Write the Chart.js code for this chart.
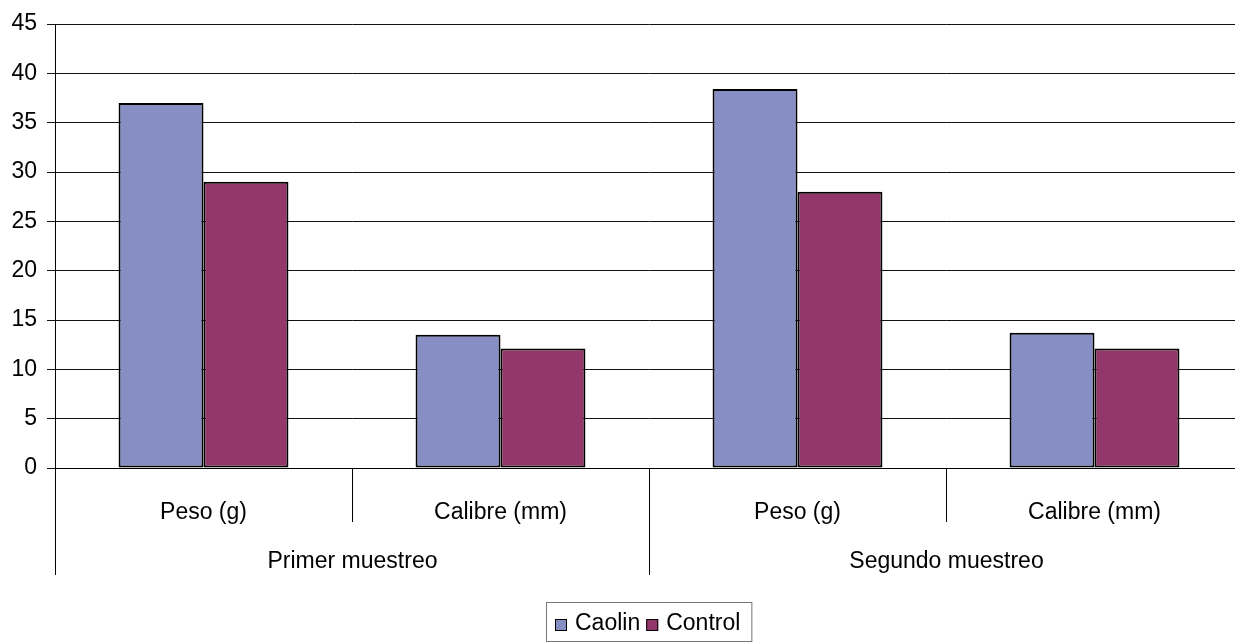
<!DOCTYPE html>
<html>
<head>
<meta charset="utf-8">
<script src="https://cdn.jsdelivr.net/npm/chart.js@4.4.1/dist/chart.umd.min.js"></script>
<style>
  html, body { margin: 0; padding: 0; background: #fff; overflow: hidden; }
  #grafico { display: block; }
</style>
</head>
<body>
<canvas id="grafico" width="1243" height="642"></canvas>
<script>
/* global Chart */
const CATEGORIAS = ['Peso (g)', 'Calibre (mm)', 'Peso (g)', 'Calibre (mm)'];
const MUESTREOS = ['Primer muestreo', 'Segundo muestreo'];
const CATS_POR_MUESTREO = 2;
const CAOLIN = [37.0, 13.5, 38.4, 13.7];
const CONTROL = [29.0, 12.1, 28.0, 12.1];
const Y_MIN = 0, Y_MAX = 45, Y_PASO = 5;

const FUENTE = 'Liberation Sans, Arial, sans-serif';
const COLORES = { caolin: '#878EC4', control: '#93366A' };

// Separadores largos + etiquetas de muestreo
const gruposPlugin = {
  id: 'grupos',
  afterDraw(chart) {
    const x = chart.scales.x;
    const ctx = chart.ctx;
    const ancho = x.getPixelForValue(1) - x.getPixelForValue(0);
    const yBase = chart.chartArea.bottom;
    ctx.save();
    ctx.strokeStyle = '#000';
    ctx.lineWidth = 1;
    ctx.fillStyle = '#000';
    ctx.font = '23px ' + FUENTE;
    ctx.textAlign = 'center';
    ctx.textBaseline = 'middle';
    MUESTREOS.forEach((m, g) => {
      const i0 = g * CATS_POR_MUESTREO;
      const i1 = i0 + CATS_POR_MUESTREO - 1;
      const izq = Math.round(x.getPixelForValue(i0) - ancho / 2) + 0.5;
      const der = Math.round(x.getPixelForValue(i1) + ancho / 2) + 0.5;
      [izq, der].forEach(px => {
        ctx.beginPath();
        ctx.moveTo(px, yBase);
        ctx.lineTo(px, yBase + 107);
        ctx.stroke();
      });
      ctx.fillText(m, (izq + der) / 2, yBase + 94);
    });
    ctx.restore();
  }
};

// Leyenda con recuadro, centrada en el area del grafico
const leyendaPlugin = {
  id: 'leyendaRecuadro',
  afterDraw(chart) {
    const ctx = chart.ctx;
    const area = chart.chartArea;
    ctx.save();
    ctx.font = '23px ' + FUENTE;
    const items = chart.data.datasets.map(ds => ({ texto: ds.label, color: ds.backgroundColor, w: ctx.measureText(ds.label).width }));
    const caja = 12, gapCaja = 8, gapItem = 6, padIzq = 9, padDer = 11;
    let total = padIzq + padDer;
    items.forEach((it, i) => { total += caja + gapCaja + it.w + (i < items.length - 1 ? gapItem : 0); });
    const x0 = Math.round((area.left + area.right) / 2 - total / 2);
    const yTop = 602;
    ctx.strokeStyle = '#777';
    ctx.lineWidth = 1;
    ctx.strokeRect(x0 + 0.5, yTop + 0.5, total, 39);
    let cx = x0 + padIzq;
    ctx.textBaseline = 'middle';
    ctx.textAlign = 'left';
    items.forEach(it => {
      ctx.fillStyle = it.color;
      ctx.fillRect(cx, 619, caja, caja);
      ctx.strokeStyle = '#000';
      ctx.strokeRect(cx + 0.5, 619.5, caja - 1, caja - 1);
      cx += caja + gapCaja;
      ctx.fillStyle = '#000';
      ctx.fillText(it.texto, cx, 624);
      cx += it.w + gapItem;
    });
    ctx.restore();
  }
};

new Chart(document.getElementById('grafico'), {
  type: 'bar',
  data: {
    labels: CATEGORIAS,
    datasets: [
      { label: 'Caolin', data: CAOLIN, backgroundColor: COLORES.caolin, borderColor: '#000', borderWidth: 2, borderSkipped: false },
      { label: 'Control', data: CONTROL, backgroundColor: COLORES.control, borderColor: '#000', borderWidth: 2, borderSkipped: false }
    ]
  },
  options: {
    responsive: false,
    animation: false,
    devicePixelRatio: 1,
    layout: { padding: { top: 24, left: 0, right: 0, bottom: 0 } },
    categoryPercentage: 0.572,
    barPercentage: 1,
    plugins: {
      legend: { display: false },
      tooltip: { enabled: false }
    },
    scales: {
      x: {
        grid: { drawOnChartArea: false, drawTicks: true, tickLength: 54, offset: true, color: '#000' },
        border: { color: '#000', width: 1 },
        ticks: { color: '#000', font: { family: FUENTE, size: 23 }, padding: -23, maxRotation: 0 },
        afterFit: s => { s.height = 174; }
      },
      y: {
        min: Y_MIN, max: Y_MAX,
        grid: { color: '#111', tickLength: 8 },
        border: { color: '#000', width: 1 },
        ticks: { stepSize: Y_PASO, color: '#000', font: { family: FUENTE, size: 23 }, padding: 10 },
        afterFit: s => { s.width = 55; }
      }
    }
  },
  plugins: [gruposPlugin, leyendaPlugin]
});
</script>
</body>
</html>
